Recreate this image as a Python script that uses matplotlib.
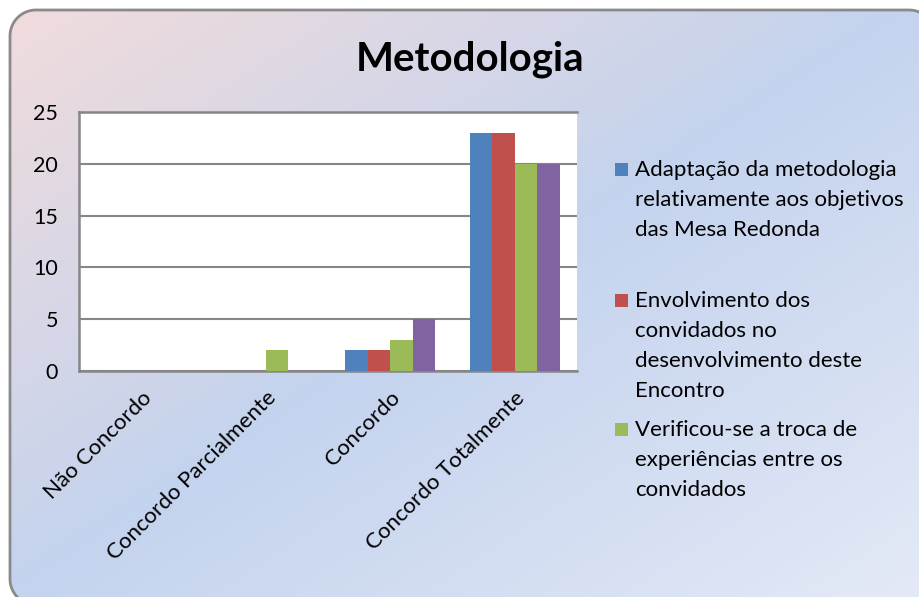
import numpy as np
import matplotlib
matplotlib.use('Agg')
import matplotlib.pyplot as plt
from matplotlib.colors import LinearSegmentedColormap
from matplotlib.patches import Polygon, Rectangle

# dados
categorias = ['Não Concordo', 'Concordo Parcialmente', 'Concordo', 'Concordo Totalmente']
series_nomes = [
    'Adaptação da metodologia\nrelativamente aos objetivos\ndas Mesa Redonda',
    'Envolvimento dos\nconvidados no\ndesenvolvimento deste\nEncontro',
    'Verificou-se a troca de\nexperiências entre os\nconvidados',
    'Série 4',
]
adaptacao = [0, 0, 2, 23]
envolvimento = [0, 0, 2, 23]
troca = [0, 2, 3, 20]
serie4 = [0, 0, 5, 20]
valores = [adaptacao, envolvimento, troca, serie4]
cores = ['#4f81bd', '#c0504d', '#9bbb59', '#8064a2']
yticks = [0, 5, 10, 15, 20, 25]

plt.rcParams['font.family'] = ['Lato', 'DejaVu Sans']

W, H = 920, 597


def retangulo_arredondado(x0, y0, x1, y1, r, n=24):
    # canto a canto, em pixels (y para baixo)
    pts = []
    cantos = [(x0 + r, y0 + r, 180, 270), (x1 - r, y0 + r, 270, 360),
              (x1 - r, y1 - r, 0, 90), (x0 + r, y1 - r, 90, 180)]
    for cx, cy, a0, a1 in cantos:
        ang = np.radians(np.linspace(a0, a1, n))
        pts.extend(zip(cx + r * np.cos(ang), cy + r * np.sin(ang)))
    return np.array(pts)


fig = plt.figure(figsize=(W / 100, H / 100), dpi=100)
fig.patch.set_facecolor('white')

# fundo com gradiente
bg = fig.add_axes([0, 0, 1, 1], zorder=0)
bg.set_autoscale_on(False)
bg.set_xlim(0, W)
bg.set_ylim(H, 0)
bg.axis('off')
cmap = LinearSegmentedColormap.from_list('fundo', [(0, '#f2dcdc'), (0.5, '#c4d3ee'), (1, '#e3e9f6')])
xx, yy = np.meshgrid(np.linspace(0, 1, 300), np.linspace(0, 1, 200))
grad = (xx + yy) / 2
moldura = Polygon(retangulo_arredondado(10, 10, 935, 605, 26), closed=True,
                  facecolor='none', edgecolor='#8a8a8a', linewidth=2, zorder=3)
bg.add_patch(moldura)
img = bg.imshow(grad, cmap=cmap, extent=(0, W, H, 0), aspect='auto', zorder=1)
img.set_clip_path(moldura)
bg.set_xlim(0, W)
bg.set_ylim(H, 0)

# grafico
ax = fig.add_axes([79 / W, 1 - 371 / H, 498 / W, 259 / H], zorder=2)
ax.set_facecolor('white')
x = np.arange(len(categorias))
largura = 0.18
for i, (vals, cor) in enumerate(zip(valores, cores)):
    ax.bar(x + (i - 1.5) * largura, vals, largura, color=cor, label=series_nomes[i], zorder=3)

ax.set_xlim(-0.5, len(categorias) - 0.5)
ax.set_ylim(0, 25)
ax.set_yticks(yticks)
ax.set_yticklabels([str(v) for v in yticks], fontsize=15.5)
ax.yaxis.grid(True, color='#868686', linewidth=1.5, zorder=0)
ax.set_xticks(x)
ax.set_xticklabels(categorias, rotation=45, ha='right', rotation_mode='anchor', fontsize=16)
ax.tick_params(axis='both', length=0)
ax.tick_params(axis='y', pad=15)
ax.tick_params(axis='x', pad=12)
for lado in ['top', 'left', 'bottom']:
    ax.spines[lado].set_color('#868686')
    ax.spines[lado].set_linewidth(1.8)
ax.spines['right'].set_visible(False)

fig.text(470 / W, 1 - 59 / H, 'Metodologia', fontsize=29, fontweight='bold',
         ha='center', va='center', zorder=5)

# legenda (so aparecem tres entradas)
topo_entradas = [169, 300, 429]
for nome, cor, yc in zip(series_nomes[:3], cores[:3], topo_entradas):
    fig.patches.append(Rectangle((615 / W, 1 - (yc + 6.5) / H), 13 / W, 13 / H,
                                 transform=fig.transFigure, facecolor=cor, edgecolor='none', zorder=5))
    fig.text(635 / W, 1 - (yc - 9) / H, nome, fontsize=16, ha='left', va='top',
             linespacing=1.62, zorder=5)

fig.savefig('out.png', dpi=100)
